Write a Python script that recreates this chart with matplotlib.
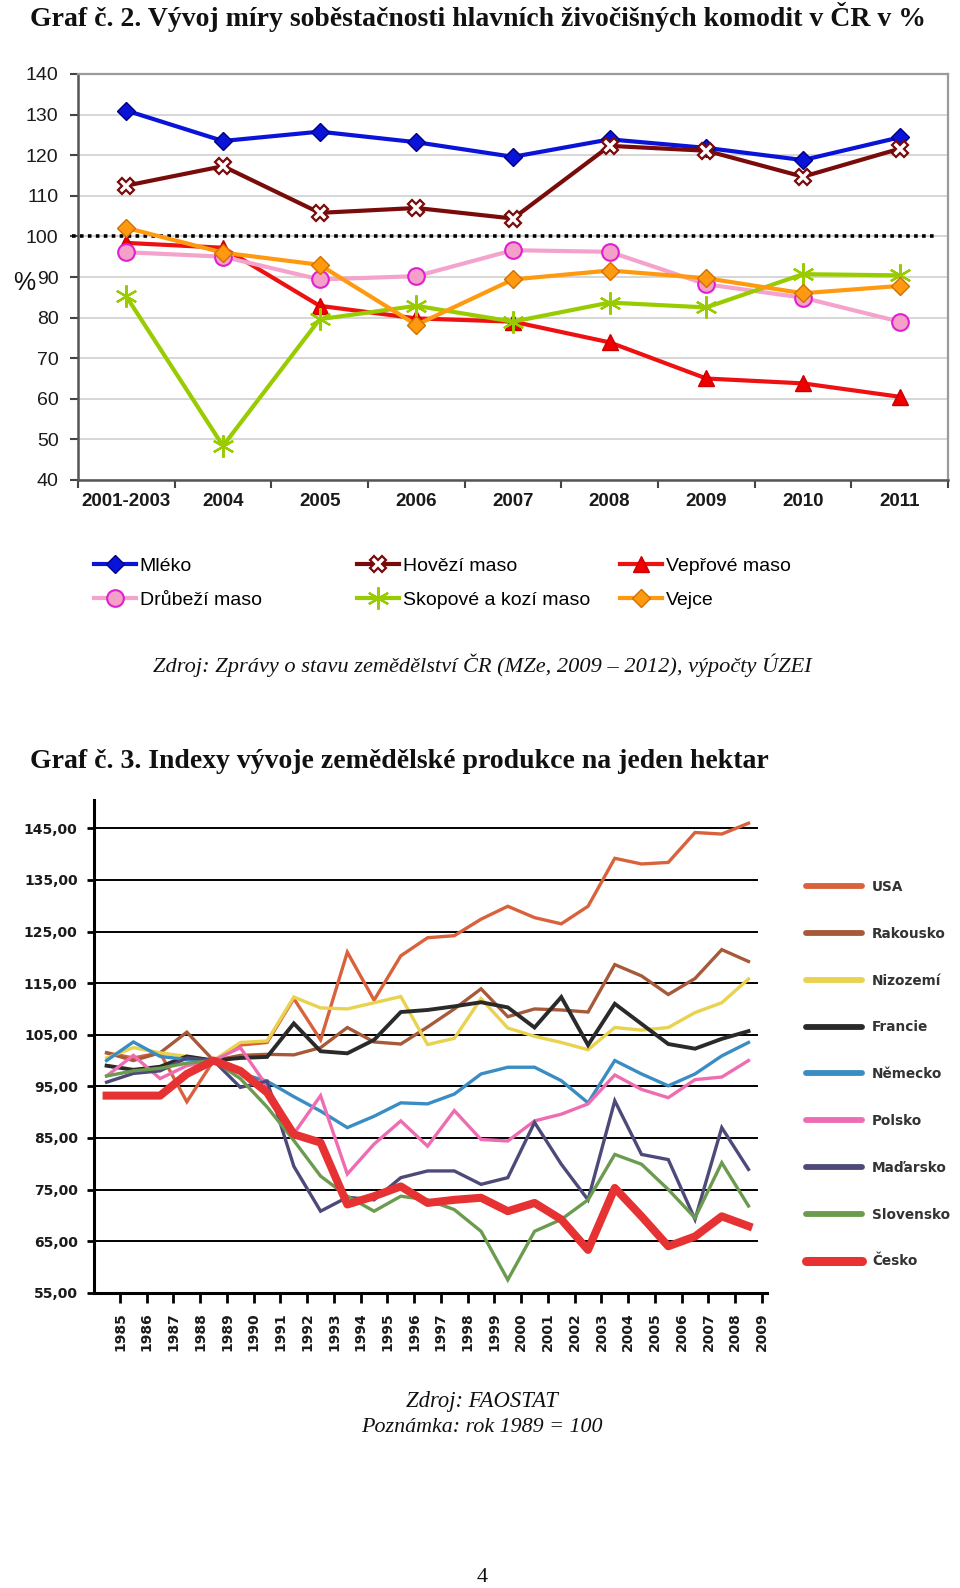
import matplotlib
matplotlib.use('Agg')
import matplotlib.pyplot as plt
import matplotlib.font_manager as fm
from matplotlib.lines import Line2D
import numpy as np

names = {f.name for f in fm.fontManager.ttflist}
NARROW = 'Liberation Sans Narrow' if 'Liberation Sans Narrow' in names else 'Liberation Sans'
SERIF = 'Liberation Serif'
SANS = 'DejaVu Sans'

# ---------------- Chart 1 data ----------------
categories1 = ['2001-2003', '2004', '2005', '2006', '2007', '2008', '2009', '2010', '2011']
mleko   = [131.0, 123.5, 125.8, 123.2, 119.6, 123.9, 121.8, 118.8, 124.4]
hovezi  = [112.5, 117.3, 105.8, 107.0, 104.4, 122.3, 121.1, 114.7, 121.6]
veprove = [98.4, 97.2, 82.9, 79.8, 79.0, 73.9, 65.0, 63.8, 60.5]
drubezi = [96.1, 95.0, 89.4, 90.2, 96.6, 96.2, 88.2, 84.9, 79.0]
skopove = [85.2, 48.4, 79.6, 82.9, 79.0, 83.7, 82.5, 90.7, 90.4]
vejce   = [102.1, 96.0, 93.0, 78.2, 89.4, 91.6, 89.7, 86.0, 87.8]
yticks1 = list(range(40, 141, 10))

# ---------------- Chart 2 data ----------------
years2 = list(range(1985, 2010))
usa       = [101.5, 100.5, 101.5, 92.0, 100.0, 103.0, 103.5, 112.0, 104.0, 121.0, 111.7, 120.3, 123.8,
             124.2, 127.4, 129.9, 127.7, 126.5, 129.9, 139.2, 138.1, 138.4, 144.2, 143.9, 146.0]
rakousko  = [101.5, 100.0, 101.5, 105.5, 100.0, 101.0, 101.2, 101.1, 102.5, 106.4, 103.6, 103.2, 106.5,
             110.0, 113.9, 108.5, 110.0, 109.8, 109.4, 118.6, 116.4, 112.8, 115.9, 121.5, 119.2]
nizozemi  = [100.5, 102.5, 101.5, 100.8, 100.0, 103.5, 103.8, 112.3, 110.2, 110.0, 111.2, 112.4, 103.1,
             104.3, 112.0, 106.3, 104.7, 103.5, 102.1, 106.4, 105.9, 106.4, 109.3, 111.2, 115.8]
francie   = [99.0, 98.2, 98.8, 100.8, 100.0, 100.5, 100.7, 107.2, 101.8, 101.4, 104.0, 109.4, 109.8,
             110.5, 111.3, 110.3, 106.4, 112.3, 103.0, 111.0, 107.1, 103.2, 102.3, 104.2, 105.7]
nemecko   = [100.0, 103.6, 100.8, 100.2, 100.0, 97.5, 96.0, 93.0, 90.2, 87.0, 89.2, 91.8, 91.6,
             93.5, 97.4, 98.7, 98.7, 96.1, 91.8, 100.0, 97.4, 95.1, 97.4, 100.9, 103.5]
polsko    = [97.0, 101.0, 96.5, 99.0, 100.0, 102.5, 95.0, 85.8, 93.2, 78.0, 83.8, 88.3, 83.4,
             90.3, 84.7, 84.4, 88.3, 89.6, 91.6, 97.2, 94.4, 92.8, 96.3, 96.8, 100.0]
madarsko  = [95.8, 97.5, 98.0, 100.5, 100.0, 94.8, 96.0, 79.5, 70.8, 73.5, 73.0, 77.3, 78.6,
             78.6, 76.0, 77.3, 88.0, 79.9, 73.0, 92.2, 81.8, 80.8, 69.2, 87.0, 78.9]
slovensko = [97.0, 98.0, 98.5, 99.5, 100.0, 96.5, 91.0, 84.5, 77.6, 73.7, 70.8, 73.7, 73.0,
             71.1, 66.9, 57.5, 66.9, 69.2, 73.0, 81.8, 79.9, 75.0, 69.5, 80.2, 71.8]
cesko     = [93.2, 93.2, 93.2, 97.4, 100.0, 98.0, 93.8, 85.7, 84.1, 72.1, 73.7, 75.6, 72.4,
             73.0, 73.4, 70.8, 72.4, 69.2, 63.3, 75.3, 69.8, 64.0, 65.9, 69.8, 67.9]
yticks2 = list(range(55, 146, 10))

W, H = 960, 1588
def fx(x): return x / W
def fy(y): return 1 - y / H

fig = plt.figure(figsize=(9.6, 15.88), dpi=100)
fig.patch.set_facecolor('white')

# ---------------- Texts ----------------
fig.text(fx(30), fy(17), 'Graf č. 2. Vývoj míry soběstačnosti hlavních živočišných komodit v ČR v %',
         family=SERIF, fontweight='bold', fontsize=20, ha='left', va='center', color='#111111')
fig.text(fx(482), fy(665), 'Zdroj: Zprávy o stavu zemědělství ČR (MZe, 2009 – 2012), výpočty ÚZEI',
         family=SERIF, style='italic', fontsize=16.1, ha='center', va='center', color='#111111')
fig.text(fx(30), fy(762), 'Graf č. 3. Indexy vývoje zemědělské produkce na jeden hektar',
         family=SERIF, fontweight='bold', fontsize=20, ha='left', va='center', color='#111111')
fig.text(fx(482), fy(1401), 'Zdroj: FAOSTAT', family=SERIF, style='italic', fontsize=16.3,
         ha='center', va='center', color='#111111')
fig.text(fx(482), fy(1427), 'Poznámka: rok 1989 = 100', family=SERIF, style='italic', fontsize=15.8,
         ha='center', va='center', color='#111111')
fig.text(fx(482), fy(1577), '4', family=SERIF, fontsize=16, ha='center', va='center', color='#111111')

# ---------------- Chart 1 ----------------
ax1 = fig.add_axes([fx(78), fy(480), 870 / W, 406 / H])
x1 = np.arange(len(categories1))
lw1 = 3.0
l_mleko, = ax1.plot(x1, mleko, color='#0a14d8', lw=lw1, marker='D', ms=9.5,
                    mfc='#0a14d8', mec='#000080', mew=1, label='Mléko', zorder=3)
l_hov, = ax1.plot(x1, hovezi, color='#7a0b0b', lw=lw1, marker='X', ms=12,
                  mfc='white', mec='#7a0b0b', mew=1.6, label='Hovězí maso', zorder=3)
l_vep, = ax1.plot(x1, veprove, color='#ee1111', lw=lw1, marker='^', ms=11,
                  mfc='#ee0000', mec='#cc0000', mew=1, label='Vepřové maso', zorder=3)
l_drub, = ax1.plot(x1, drubezi, color='#f4a3cc', lw=lw1, marker='o', ms=12,
                   mfc='#f4a0c8', mec='#e020d0', mew=1.5, label='Drůbeží maso', zorder=3)
l_skop, = ax1.plot(x1, skopove, color='#99cc00', lw=lw1, marker=(6, 2, 0), ms=16,
                   mec='#99cc00', mew=1.6, label='Skopové a kozí maso', zorder=3)
l_vejce, = ax1.plot(x1, vejce, color='#ff9a10', lw=lw1, marker='D', ms=9.5,
                    mfc='#ff9a10', mec='#d07000', mew=1, label='Vejce', zorder=3)

ax1.plot([-0.56, 8.38], [100, 100], color='black', lw=2.6, ls=(0, (1, 1.2)), clip_on=False, zorder=2)
ax1.set_xlim(-0.5, 8.5)
ax1.set_ylim(40, 140)
ax1.set_yticks(yticks1)
ax1.set_xticks(x1)
ax1.set_xticklabels(categories1, family=NARROW, fontweight='bold', fontsize=13.5)
ax1.set_xticks(np.arange(-0.5, 9.0, 1.0), minor=True)
ax1.tick_params(axis='x', which='major', length=0, pad=9, colors='#1a1a1a')
ax1.tick_params(axis='x', which='minor', length=6, width=1.5, color='#444444')
ax1.tick_params(axis='y', length=6, width=1.5, color='#444444', pad=8, labelsize=14)
for lab in ax1.get_yticklabels():
    lab.set_family(NARROW)
    lab.set_color('#1a1a1a')
ax1.yaxis.grid(True, color='#cccccc', lw=1.1)
ax1.set_axisbelow(True)
for s in ['left', 'bottom']:
    ax1.spines[s].set_color('#555555')
    ax1.spines[s].set_linewidth(1.8)
for s in ['top', 'right']:
    ax1.spines[s].set_color('#9a9a9a')
    ax1.spines[s].set_linewidth(1.6)
fig.text(fx(24), fy(283), '%', family=NARROW, fontsize=18, ha='center', va='center', color='#111111')

leg_kw = dict(loc='upper left', frameon=False, prop={'family': NARROW, 'size': 14},
              handlelength=2.15, handletextpad=0.2, labelspacing=0.86,
              borderpad=0, borderaxespad=0, numpoints=1)
for xs, hs in [(94, [l_mleko, l_drub]), (357, [l_hov, l_skop]), (620, [l_vep, l_vejce])]:
    fig.legend(handles=hs, labels=[h.get_label() for h in hs],
               bbox_to_anchor=(fx(xs), fy(557)), **leg_kw)

# ---------------- Chart 2 ----------------
ax2 = fig.add_axes([fx(94.3), fy(1292.7), 672.4 / W, 492.7 / H])
x2 = np.arange(len(years2))
series2 = [
    ('USA', usa, '#d9613c', 2.4),
    ('Rakousko', rakousko, '#a65a3a', 2.4),
    ('Nizozemí', nizozemi, '#e8d24e', 2.4),
    ('Francie', francie, '#2a2a2a', 2.8),
    ('Německo', nemecko, '#3a8dc2', 2.4),
    ('Polsko', polsko, '#f06cb2', 2.4),
    ('Maďarsko', madarsko, '#4d4a7a', 2.4),
    ('Slovensko', slovensko, '#6a9b4e', 2.4),
    ('Česko', cesko, '#e63232', 5.8),
]
for i, (name, vals, col, lw) in enumerate(series2):
    ax2.plot(x2, vals, color=col, lw=lw, label=name, zorder=3 + i,
             solid_joinstyle='miter' if lw < 5 else 'round')

for v in yticks2[1:]:
    ax2.axhline(v, color='black', lw=1.4, xmax=0.985, zorder=2)
ax2.set_xlim(-0.46, 24.68)
ax2.set_ylim(55, 150.5)
ax2.set_yticks(yticks2)
ax2.set_yticklabels([f'{v:.2f}'.replace('.', ',') for v in yticks2],
                    family=SANS, fontweight='bold', fontsize=10, color='#1a1a1a')
ax2.set_xticks(x2 + 0.5)
ax2.set_xticklabels([str(y) for y in years2], rotation=90, family=SANS,
                    fontweight='bold', fontsize=10, color='#1a1a1a')
ax2.tick_params(axis='x', length=7, width=2, pad=7, color='black')
ax2.tick_params(axis='y', length=5, width=2, pad=7, color='black')
for s in ['top', 'right']:
    ax2.spines[s].set_visible(False)
for s in ['left', 'bottom']:
    ax2.spines[s].set_color('black')
    ax2.spines[s].set_linewidth(2.2)

leg_handles = [Line2D([], [], color=c, lw=(6.5 if n == 'Česko' else 4.2), solid_capstyle='round')
               for n, _, c, _ in series2]
fig.legend(handles=leg_handles, labels=[n for n, _, _, _ in series2], loc='upper left',
           bbox_to_anchor=(fx(806), fy(880)), frameon=False,
           prop={'family': SANS, 'weight': 'bold', 'size': 9.8},
           labelcolor='#333333', handlelength=4.1, handletextpad=0.75,
           labelspacing=2.41, borderpad=0, borderaxespad=0)

fig.savefig('out.png', dpi=100, facecolor='white')
